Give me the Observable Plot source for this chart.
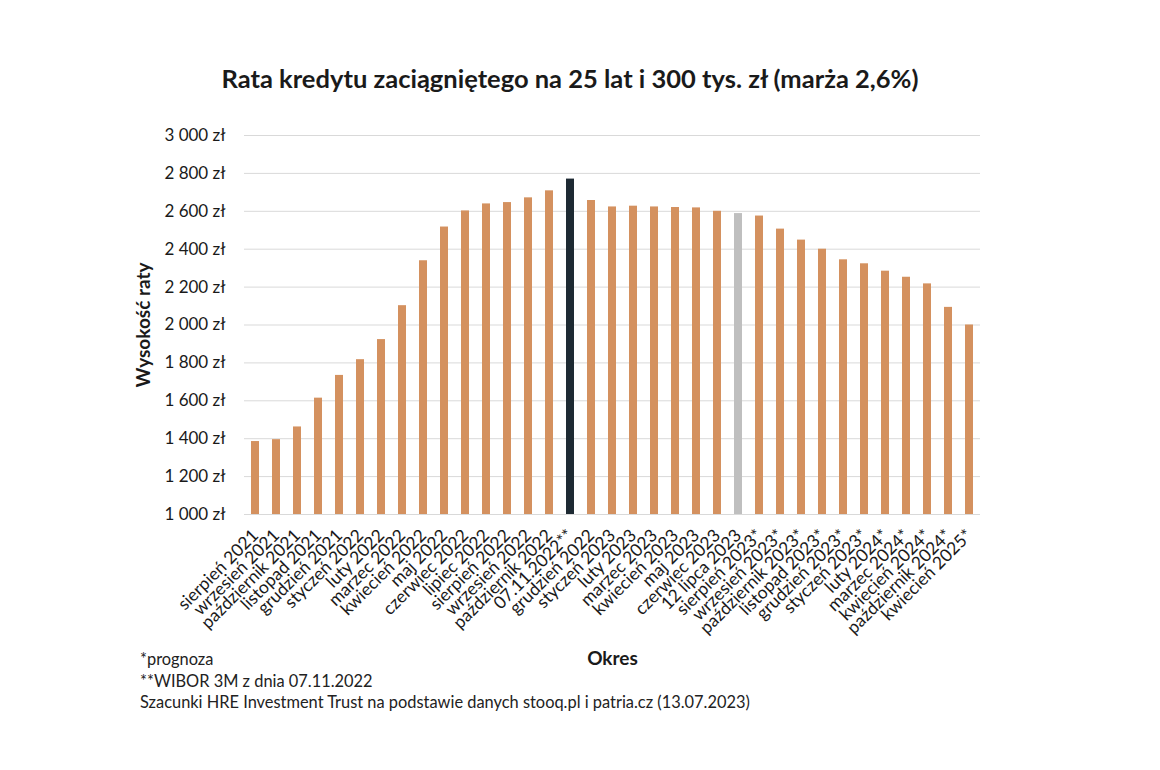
<!DOCTYPE html>
<html><head><meta charset="utf-8">
<script src="https://cdn.jsdelivr.net/npm/d3@7"></script>
<script src="https://cdn.jsdelivr.net/npm/@observablehq/plot@0.6"></script>
<style>
html,body{margin:0;padding:0;background:#fff;}
body{width:1160px;height:770px;position:relative;overflow:hidden;font-family:Lato,"Open Sans",sans-serif;color:#1a1a1a;}
#title{position:absolute;top:63px;left:0;width:1140px;text-align:center;font-size:25.5px;font-weight:bold;color:#1a1a1a;}
#chart{position:absolute;top:100px;left:0;}
#notes{position:absolute;left:140px;top:648px;font-size:16.4px;line-height:21.5px;color:#222;}
svg g[aria-label="y-axis label"] text, svg g[aria-label="y-axis label"]{font-weight:bold;font-size:19px;}
svg g[aria-label="x-axis label"] text, svg g[aria-label="x-axis label"]{font-weight:bold;font-size:19px;}
svg g[aria-label="x-axis tick label"]{font-size:17.5px;}
svg g[aria-label="y-axis tick label"]{font-size:17px;}
</style></head>
<body>
<div id="title">Rata kredytu zaciągniętego na 25 lat i 300 tys. zł (marża 2,6%)</div>
<div id="chart"></div>
<div id="notes">*prognoza<br>**WIBOR 3M z dnia 07.11.2022<br>Szacunki HRE Investment Trust na podstawie danych stooq.pl i patria.cz (13.07.2023)</div>
<script>
const periods = [
  "sierpień 2021","wrzesień 2021","październik 2021","listopad 2021","grudzień 2021",
  "styczeń 2022","luty 2022","marzec 2022","kwiecień 2022","maj 2022","czerwiec 2022",
  "lipiec 2022","sierpień 2022","wrzesień 2022","październik 2022","07.11.2022**",
  "grudzień 2022","styczeń 2023","luty 2023","marzec 2023","kwiecień 2023","maj 2023",
  "czerwiec 2023","12 lipca 2023","sierpień 2023*","wrzesień 2023*","październik 2023*",
  "listopad 2023*","grudzień 2023*","styczeń 2023*","luty 2024*","marzec 2024*",
  "kwiecień 2024*","październik 2024*","kwiecień 2025*"
];
const rates = [
  1385, 1395, 1462, 1614, 1734,
  1817, 1923, 2102, 2339, 2517, 2602,
  2639, 2646, 2671, 2708, 2770,
  2657, 2623, 2627, 2623, 2620, 2618,
  2600, 2588, 2575, 2506, 2448,
  2400, 2344, 2323, 2284, 2252,
  2217, 2093, 2000
];
const highlightWibor = "07.11.2022**";
const highlightToday = "12 lipca 2023";
const yTicks = [1000,1200,1400,1600,1800,2000,2200,2400,2600,2800,3000];

const data = periods.map((p, i) => ({
  okres: p,
  rata: rates[i],
  typ: p === highlightWibor ? "wibor" : p === highlightToday ? "dzis" : "rata"
}));

const fmt = d => d3.format(",")(d).replace(/,/g, " ") + " zł";

const chart = Plot.plot({
  width: 1160,
  height: 580,
  marginTop: 35,
  marginBottom: 166,
  marginLeft: 244,
  marginRight: 180,
  style: {fontFamily: "Lato, 'Open Sans', sans-serif", fontSize: "17px", color: "#1a1a1a", background: "#fff"},
  x: {domain: periods, paddingInner: 0.6, paddingOuter: 0.3, label: null},
  y: {domain: [yTicks[0], yTicks[yTicks.length - 1]], label: null},
  color: {domain: ["rata","wibor","dzis"], range: ["#d4915f","#1e2a33","#bfbfbf"]},
  marks: [
    Plot.gridY(yTicks, {stroke: "#d9d9d9", strokeOpacity: 1, strokeWidth: 1}),
    Plot.barY(data, {x: "okres", y1: yTicks[0], y2: "rata", fill: "typ"}),
    Plot.axisY(yTicks, {tickSize: 0, tickPadding: 19, tickFormat: fmt, label: "Wysokość raty", labelAnchor: "center", labelArrow: "none", labelOffset: 108}),
    Plot.axisX({tickSize: 0, tickPadding: 18, tickRotate: -45, label: "Okres", labelAnchor: "center", labelArrow: "none", labelOffset: 150})
  ]
});
document.getElementById("chart").appendChild(chart);
</script>
</body></html>
